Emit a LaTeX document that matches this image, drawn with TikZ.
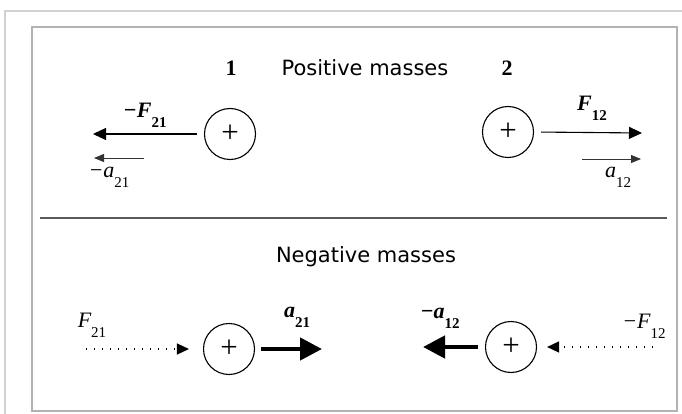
\documentclass[tikz,border=0pt]{standalone}
\usepackage{fontspec}
\setmainfont{Liberation Serif}
\newfontfamily\labsans{DejaVu Sans}
\usetikzlibrary{arrows.meta}
\tikzset{
  mass/.style={circle,draw,line width=1.1pt,minimum size=51pt,inner sep=0pt,font=\fontsize{31}{31}\selectfont},
  thinarr/.style={line width=1.1pt,-{Triangle[length=13pt,width=12pt]}},
  accarr/.style={line width=0.9pt,draw=black!80,-{Triangle[length=10pt,width=8pt]}},
  dotarr/.style={line width=1.4pt,dash pattern=on 1.4pt off 6.6pt,-{Triangle[length=12pt,width=11pt,sep=0pt]}},
  boldarr/.style={line width=4.5pt,-{Triangle[length=22pt,width=22pt]}},
  title/.style={font=\labsans\fontsize{21}{21}\selectfont,text=black},
  idx/.style={font=\bfseries\fontsize{22}{22}\selectfont},
  lab/.style={inner sep=0pt,font=\fontsize{22}{22}\selectfont}
}
\newcommand{\bsub}[2]{{\bfseries\itshape #1}\raisebox{-10pt}{\bfseries\fontsize{15}{15}\selectfont #2}}
\newcommand{\nsub}[2]{{\itshape #1}\raisebox{-10pt}{\fontsize{15}{15}\selectfont #2}}
\begin{document}
\begin{tikzpicture}[x=1pt,y=-1pt]
\useasboundingbox (0,0) rectangle (682,414);
% frames
\draw[line width=1.5pt,black!18] (682,11) -- (5,11) -- (5,414);
\draw[line width=1.5pt,black!30] (32,27) rectangle (677,411);
\draw[line width=1.2pt,black!65] (40,218) coordinate (dl) -- (667,218) coordinate (dr);
% titles
\node[idx] (n1) at (231,68) {1};
\node[title] (tp) at (365,68) {Positive masses};
\node[idx] (n2) at (507,68) {2};
\node[title] (tn) at (366,257) {Negative masses};
% masses
\node[mass] (c1) at (230,134) {+};
\node[mass] (c2) at (508,132) {+};
\node[mass] (c3) at (229,349) {+};
\node[mass] (c4) at (511,347) {+};
% top left
\coordinate (f21e) at (93,134);
\draw[thinarr,shorten <=7pt] (c1.west) -- (f21e);
\coordinate (a21s) at (144,158);
\coordinate (a21e) at (94,158);
\draw[accarr] (a21s) -- (a21e);
\node[lab] (lf21) at (145,115) {\bsub{−F}{21}};
\node[lab] (la21) at (109,177) {\nsub{−a}{21}};
% top right
\coordinate (f12e) at (642,133);
\draw[thinarr,shorten <=7pt] (c2.east) -- (f12e);
\coordinate (a12s) at (582,159);
\coordinate (a12e) at (641,159);
\draw[accarr] (a12s) -- (a12e);
\node[lab] (lf12) at (592,108) {\bsub{F}{12}};
\node[lab] (la12) at (618,177) {\nsub{a}{12}};
% bottom left
\coordinate (F21s) at (86,349);
\draw[dotarr,shorten >=14pt] (F21s) -- (c3.west);
\coordinate (A21e) at (322,349);
\draw[boldarr,shorten <=6pt] (c3.east) -- (A21e);
\node[lab] (lF21) at (92,325) {\nsub{F}{21}};
\node[lab] (lA21) at (297,317) {\bsub{a}{21}};
% bottom right
\coordinate (A12e) at (423,347);
\draw[boldarr,shorten <=7pt] (c4.west) -- (A12e);
\coordinate (F12s) at (653,347);
\draw[dotarr,shorten >=10pt] (F12s) -- (c4.east);
\node[lab] (lA12) at (440,318) {\bsub{−a}{12}};
\node[lab] (lF12) at (644,326) {\nsub{−F}{12}};
\end{tikzpicture}
\end{document}
